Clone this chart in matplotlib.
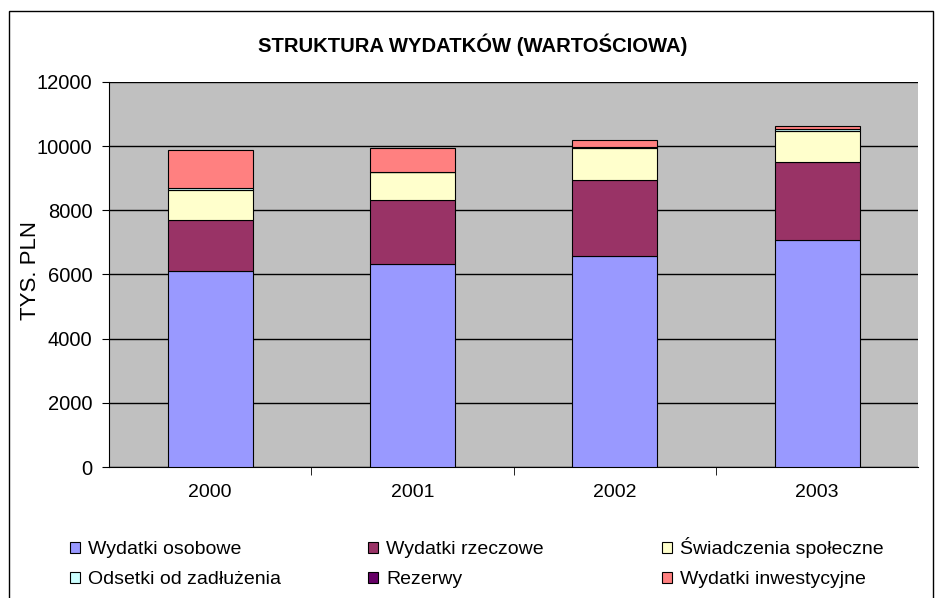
import numpy as np
import matplotlib.pyplot as plt
from matplotlib.patches import Rectangle

plt.rcParams['font.family'] = ['Liberation Sans', 'DejaVu Sans']

# dane (tys. PLN)
lata = ['2000', '2001', '2002', '2003']
serie = ['Wydatki osobowe', 'Wydatki rzeczowe', 'Świadczenia społeczne',
         'Odsetki od zadłużenia', 'Rezerwy', 'Wydatki inwestycyjne']
osobowe = [6100, 6340, 6580, 7070]
rzeczowe = [1610, 1970, 2370, 2430]
swiadczenia = [930, 880, 1000, 980]
odsetki = [60, 10, 20, 60]
rezerwy = [0, 0, 0, 0]
inwestycyjne = [1170, 750, 220, 80]
kolory = ['#9999FF', '#993366', '#FFFFCC', '#CCFFFF', '#660066', '#FF8080']

fig = plt.figure(figsize=(9.35, 5.98), dpi=100)
ax = fig.add_axes([0.1166, 0.219, 0.8654, 0.644])
ax.set_facecolor('#C0C0C0')

x = np.arange(len(lata))
dol = np.zeros(len(lata))
slupki = []
for vals, kol, nazwa in zip([osobowe, rzeczowe, swiadczenia, odsetki, rezerwy, inwestycyjne], kolory, serie):
    b = ax.bar(x, vals, 0.42, bottom=dol, color=kol, edgecolor='black', linewidth=0.8, label=nazwa, zorder=3)
    slupki.append(b)
    dol += np.array(vals)

ax.set_xlim(-0.5, 3.5)
ax.set_ylim(0, 12000)
ax.set_yticks(np.arange(0, 12001, 2000))
ax.grid(axis='y', color='black', linewidth=1, zorder=1)
ax.set_xticks(x)
ax.set_xticklabels(lata)
ax.set_xticks([0.5, 1.5, 2.5], minor=True)
ax.tick_params(axis='x', which='major', length=0, pad=12, labelsize=14)
ax.tick_params(axis='x', which='minor', length=6, direction='out', color='black')
ax.tick_params(axis='y', length=5, direction='out', labelsize=14.5, pad=7)
for s in ['top', 'right']:
    ax.spines[s].set_visible(False)
ax.spines['left'].set_color('black')
ax.spines['bottom'].set_color('black')

fig.text(30 / 935, 1 - 271 / 598, 'TYS. PLN', rotation=90, ha='center', va='center', fontsize=16)
fig.text(0.506, 0.925, 'STRUKTURA WYDATKÓW (WARTOŚCIOWA)', ha='center', va='center',
         fontsize=14.6, fontweight='bold')

# legenda: trzy kolumny po dwa wpisy
for j, xl in enumerate([70, 368, 662]):
    fig.legend([slupki[j], slupki[j + 3]], [serie[j], serie[j + 3]], loc='lower left',
               bbox_to_anchor=(xl / 935, 0.0167), frameon=False, fontsize=14, borderpad=0,
               borderaxespad=0, handlelength=0.5, handleheight=0.5, handletextpad=0.45,
               labelspacing=0.65)

# ramka wykresu
fig.patches.append(Rectangle((9 / 935, -0.05), 924 / 935, 1.05 - 11 / 598, transform=fig.transFigure,
                             fill=False, edgecolor='black', linewidth=1))

fig.savefig('out.png', dpi=100)
